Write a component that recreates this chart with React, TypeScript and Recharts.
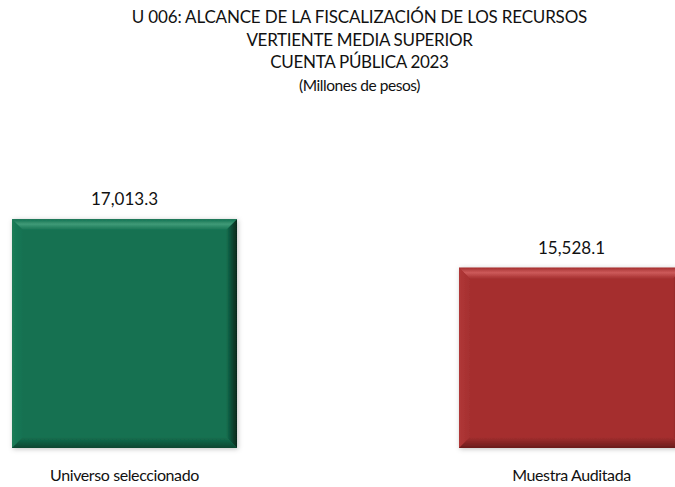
import React from "react";
import { BarChart, Bar, XAxis, YAxis, LabelList } from "recharts";

const categories = ["Universo seleccionado", "Muestra Auditada"];
const values = [17013.3, 15528.1];
const titleLines = [
  "U 006: ALCANCE DE LA FISCALIZACIÓN DE LOS RECURSOS",
  "VERTIENTE MEDIA SUPERIOR",
  "CUENTA PÚBLICA 2023",
];
const subtitle = "(Millones de pesos)";

const data = categories.map((name, i) => ({ name, value: values[i] }));

const FONT = "Lato, 'Open Sans', sans-serif";

const PALETTE = [
  { base: "#147151", light: "#3f9a77", left: "#1b7c58", right: "#06261a", bottom: "#0b4631" },
  { base: "#a52f2f", light: "#cc5a5a", left: "#b03838", right: "#5a1414", bottom: "#6a1c1c" },
];

const BevelBar = (props: any) => {
  const { x, y, width, height, index } = props;
  if (width == null || height == null) return null;
  const c = PALETTE[index % PALETTE.length];
  const b = 11;
  const x2 = x + width;
  const y2 = y + height;
  return (
    <g filter="url(#barShadow)">
      <rect x={x} y={y} width={width} height={height} fill={c.base} />
      <polygon points={`${x},${y} ${x2},${y} ${x2 - b},${y + b} ${x + b},${y + b}`} fill={`url(#top${index})`} />
      <polygon points={`${x},${y} ${x + b},${y + b} ${x + b},${y2 - b} ${x},${y2}`} fill={`url(#left${index})`} />
      <polygon points={`${x2},${y} ${x2},${y2} ${x2 - b},${y2 - b} ${x2 - b},${y + b}`} fill={`url(#right${index})`} />
      <polygon points={`${x},${y2} ${x2},${y2} ${x2 - b},${y2 - b} ${x + b},${y2 - b}`} fill={`url(#bottom${index})`} />
    </g>
  );
};

const fmt = (v: any) =>
  Number(v).toLocaleString("en-US", { minimumFractionDigits: 1, maximumFractionDigits: 1 });

export default function App() {
  return (
    <div
      style={{
        position: "absolute",
        left: 0,
        top: 0,
        width: 675,
        height: 487,
        overflow: "hidden",
        background: "#fff",
      }}
    >
      <div
        style={{
          position: "absolute",
          left: 22,
          top: 6,
          width: 675,
          textAlign: "center",
          fontFamily: FONT,
          fontSize: 17,
          letterSpacing: -0.3,
          lineHeight: "22.5px",
          color: "#111",
        }}
      >
        {titleLines.map((t, i) => (
          <div key={t} style={i === 0 ? { letterSpacing: -0.18 } : undefined}>
            {t}
          </div>
        ))}
        <div style={{ fontSize: 15.5, letterSpacing: -0.45 }}>{subtitle}</div>
      </div>
      <div style={{ position: "absolute", left: -99, top: 0 }}>
        <BarChart
          width={894}
          height={487}
          data={data}
          margin={{ top: 187, right: 0, bottom: 0, left: 0 }}
        >
          <defs>
            <filter id="barShadow" x="-10%" y="-10%" width="120%" height="120%">
              <feDropShadow dx="1" dy="1" stdDeviation="2.5" floodColor="#000" floodOpacity="0.25" />
            </filter>
            {PALETTE.map((c, i) => (
              <React.Fragment key={i}>
                <linearGradient id={`top${i}`} x1="0" y1="0" x2="0" y2="1">
                  <stop offset="0%" stopColor={c.base} />
                  <stop offset="45%" stopColor={c.light} />
                  <stop offset="100%" stopColor={c.base} />
                </linearGradient>
                <linearGradient id={`left${i}`} x1="0" y1="0" x2="1" y2="0">
                  <stop offset="0%" stopColor={c.left} />
                  <stop offset="100%" stopColor={c.base} />
                </linearGradient>
                <linearGradient id={`right${i}`} x1="1" y1="0" x2="0" y2="0">
                  <stop offset="0%" stopColor={c.right} />
                  <stop offset="100%" stopColor={c.base} />
                </linearGradient>
                <linearGradient id={`bottom${i}`} x1="0" y1="1" x2="0" y2="0">
                  <stop offset="0%" stopColor={c.bottom} />
                  <stop offset="100%" stopColor={c.base} />
                </linearGradient>
              </React.Fragment>
            ))}
          </defs>
          <XAxis
            dataKey="name"
            height={39}
            axisLine={false}
            tickLine={false}
            tickMargin={16}
            tick={{ fill: "#111", fontSize: 16, fontFamily: FONT, letterSpacing: -0.4 }}
            interval={0}
          />
          <YAxis hide domain={[10000, 18000]} />
          <Bar dataKey="value" barSize={225} shape={<BevelBar />} isAnimationActive={false}>
            <LabelList
              dataKey="value"
              position="top"
              offset={14}
              formatter={fmt}
              style={{ fill: "#111", fontSize: 17, fontFamily: FONT }}
            />
          </Bar>
        </BarChart>
      </div>
    </div>
  );
}
